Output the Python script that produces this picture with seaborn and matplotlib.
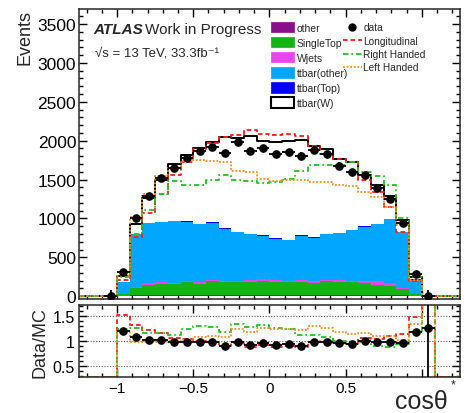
import numpy as np
import pandas as pd
import matplotlib
matplotlib.use('Agg')
import matplotlib.pyplot as plt
from matplotlib.patches import Patch
from matplotlib.lines import Line2D
from matplotlib.ticker import MultipleLocator, FixedLocator, FixedFormatter
import seaborn as sns

# 30 bins of cos(theta), width 1/12, from -1.25 to 1.25
bin_edges = list(np.linspace(-1.25, 1.25, 31))

# MC samples (events per bin)
other = [0, 0, 0, 3, 12, 15, 15, 15, 18, 16, 18, 18, 18, 18, 20, 18, 18, 18,
         16, 18, 18, 16, 16, 15, 14, 10, 3, 0, 0, 0]
single_top = [0, 0, 0, 27, 93, 134, 143, 139, 162, 144, 172, 164, 164, 170,
              181, 170, 162, 170, 155, 175, 166, 164, 155, 135, 123, 84, 27,
              0, 0, 0]
wjets = [0, 0, 0, 5, 18, 20, 20, 22, 22, 22, 22, 20, 20, 22, 22, 20, 20, 22,
         20, 20, 22, 20, 22, 40, 34, 15, 5, 0, 0, 0]
ttbar_other = [0, 0, 0, 145, 677, 773, 774, 786, 756, 745, 728, 668, 624,
               589, 556, 532, 522, 569, 561, 584, 608, 652, 702, 735, 823,
               712, 180, 1, 0, 0]
ttbar_top = [0, 0, 0, 2, 4, 4, 4, 4, 4, 4, 12, 10, 4, 4, 4, 4, 4, 4, 10, 4,
             4, 4, 4, 4, 4, 4, 2, 0, 0, 0]
ttbar_w = [0, 0, 0, 78, 131, 314, 544, 729, 850, 971, 1028, 1165, 1200, 1262,
           1212, 1244, 1266, 1221, 1166, 1087, 945, 876, 666, 506, 287, 161,
           28, 3, 0, 0]

# data
nan = np.nan
data = [nan, nan, 3, 310, 1002, 1285, 1520, 1645, 1778, 1864, 1915, 1842,
        1987, 1872, 1906, 1829, 1851, 1807, 1884, 1829, 1679, 1602, 1563,
        1392, 1251, 942, 287, 5, nan, nan]
data_err = [nan, nan, 75, 18, 32, 36, 39, 41, 42, 43, 44, 43, 45, 43, 44, 43,
            43, 43, 43, 43, 41, 40, 40, 37, 35, 31, 17, 75, nan, nan]

# helicity templates
longitudinal = [0, 0, 0, 205, 758, 1067, 1315, 1559, 1722, 1893, 1965, 2044,
                2073, 2141, 2090, 2070, 2086, 2060, 1928, 1830, 1765, 1722,
                1495, 1345, 1144, 831, 195, 1, 0, 0]
right_handed = [0, 0, 0, 251, 805, 1111, 1310, 1486, 1431, 1431, 1500, 1559,
                1500, 1480, 1452, 1465, 1508, 1615, 1692, 1692, 1692, 1722,
                1594, 1548, 1435, 1006, 246, 1, 0, 0]
left_handed = [0, 0, 0, 258, 1022, 1311, 1551, 1645, 1743, 1748, 1740, 1722,
               1615, 1598, 1510, 1480, 1500, 1495, 1465, 1465, 1431, 1422,
               1345, 1280, 1144, 920, 215, 1, 0, 0]

stack_order = ['ttbar(W)', 'ttbar(Top)', 'ttbar(other)', 'Wjets', 'SingleTop', 'other']
colors = {'other': '#8a0f8a', 'SingleTop': '#14b414', 'Wjets': '#ec44ec',
          'ttbar(other)': '#00a6ff', 'ttbar(Top)': '#0000ff', 'ttbar(W)': '#ffffff'}
legend_order = ['other', 'SingleTop', 'Wjets', 'ttbar(other)', 'ttbar(Top)', 'ttbar(W)']

y_ticks = [0, 500, 1000, 1500, 2000, 2500, 3000, 3500]
ratio_ticks = [0.5, 1, 1.5]
ratio_labels = ['0.5', '1', '1.5']
x_ticks = [-1, -0.5, 0, 0.5, 1]
x_labels = ['\u22121', '\u22120.5', '0', '0.5', '']


def main():
    df = build()
    plot(df)


def build():
    edges = np.array(bin_edges)
    centers = 0.5 * (edges[:-1] + edges[1:])
    series = {'other': other, 'SingleTop': single_top, 'Wjets': wjets,
              'ttbar(other)': ttbar_other, 'ttbar(Top)': ttbar_top,
              'ttbar(W)': ttbar_w}
    rows = []
    for name, vals in series.items():
        rows.append(pd.DataFrame({'x': centers, 'w': vals, 'sample': name}))
    return pd.concat(rows, ignore_index=True)


def style_axis(a):
    a.tick_params(which='both', direction='in', top=True, right=True,
                  width=1, colors='black')
    a.tick_params(which='major', length=6)
    a.tick_params(which='minor', length=3)
    for s in a.spines.values():
        s.set_linewidth(1.1)


def plot(df):
    sns.set_style('ticks')
    plt.rcParams['font.family'] = ['Liberation Sans', 'DejaVu Sans']

    fig = plt.figure(figsize=(4.67, 4.14), dpi=100)
    ax = fig.add_axes([0.169, 0.2754, 0.816, 0.7005])
    rax = fig.add_axes([0.169, 0.0862, 0.816, 0.1754])

    edges = np.array(bin_edges)
    centers = 0.5 * (edges[:-1] + edges[1:])
    half = 0.5 * np.diff(edges)
    total = df.groupby('x', sort=True)['w'].sum().values
    d = np.array(data, dtype=float)
    derr = np.array(data_err, dtype=float)

    # stacked MC
    sns.histplot(data=df, x='x', weights='w', hue='sample', hue_order=stack_order,
                 palette=colors, multiple='stack', bins=bin_edges, element='step',
                 linewidth=0, alpha=1, legend=False, ax=ax)
    sns.histplot(x=centers, weights=total, bins=bin_edges, element='step',
                 fill=False, color='black', linewidth=1.4, ax=ax)

    templates = [(longitudinal, '#ff1a1a', (0, (2.6, 1.6))),
                 (right_handed, '#1fc41f', (0, (3, 1.6, 1, 1.6))),
                 (left_handed, '#ff8c1a', (0, (1, 1)))]
    for vals, col, ls in templates:
        sns.histplot(x=centers, weights=vals, bins=bin_edges, element='step',
                     fill=False, color=col, linestyle=ls, linewidth=1.3, ax=ax)

    ax.errorbar(centers, d, yerr=derr, xerr=half, fmt='o', color='black',
                ms=5.2, elinewidth=1.3, capsize=0, zorder=5)

    ax.set_xlim(-1.25, 1.25)
    ax.set_ylim(-35, 3693)
    ax.yaxis.set_major_locator(FixedLocator(y_ticks))
    ax.yaxis.set_minor_locator(MultipleLocator(100))
    ax.xaxis.set_major_locator(FixedLocator(x_ticks))
    ax.xaxis.set_minor_locator(MultipleLocator(0.1))
    ax.set_xticklabels([])
    ax.tick_params(axis='y', labelsize=12.5, pad=2)
    style_axis(ax)
    ax.set_xlabel('')
    ax.set_ylabel('Events', loc='top', fontsize=13)
    ax.yaxis.set_label_coords(-0.118, 1.0)

    # ratio panel
    d0 = np.nan_to_num(d)
    rlo, rhi = 0.268, 1.72
    for vals, col, ls in templates:
        t = np.array(vals, dtype=float)
        r = np.divide(d0, t, out=np.zeros_like(t), where=t > 0)
        r = np.clip(r, rlo + 0.01, rhi + 0.5)
        sns.histplot(x=centers, weights=r, bins=bin_edges, element='step',
                     fill=False, color=col, linestyle=ls, linewidth=1.3, ax=rax)
    with np.errstate(divide='ignore', invalid='ignore'):
        rd = np.where(total > 0, d / total, np.nan)
        rerr = np.where(total > 0, derr / total, np.nan)
    rax.errorbar(centers, rd, yerr=rerr, xerr=half, fmt='o', color='black',
                 ms=5.2, elinewidth=1.3, capsize=0, zorder=5)
    for yv in ratio_ticks:
        rax.axhline(yv, color='0.35', linestyle=(0, (1, 1.5)), linewidth=0.8, zorder=0)

    rax.set_xlim(-1.25, 1.25)
    rax.set_ylim(rlo, rhi)
    rax.yaxis.set_major_locator(FixedLocator(ratio_ticks))
    rax.yaxis.set_major_formatter(FixedFormatter(ratio_labels))
    rax.yaxis.set_minor_locator(MultipleLocator(0.1))
    rax.xaxis.set_major_locator(FixedLocator(x_ticks))
    rax.xaxis.set_major_formatter(FixedFormatter(x_labels))
    rax.xaxis.set_minor_locator(MultipleLocator(0.1))
    rax.tick_params(axis='y', labelsize=11.5, pad=3)
    rax.tick_params(axis='x', labelsize=11, pad=3)
    style_axis(rax)
    rax.set_xlabel('')
    rax.set_ylabel('Data/MC', fontsize=13)
    rax.yaxis.set_label_coords(-0.080, 0.49)

    # legends
    handles1 = [Patch(facecolor=colors[n], edgecolor='black' if n == 'ttbar(W)' else colors[n],
                      linewidth=1.5 if n == 'ttbar(W)' else 0.5) for n in legend_order]
    leg1 = ax.legend(handles1, legend_order, loc='upper left',
                     bbox_to_anchor=(270.7 / 467, 1 - 23 / 414),
                     bbox_transform=fig.transFigure, frameon=False, fontsize=7.5,
                     borderpad=0, borderaxespad=0, handlelength=2.2,
                     handleheight=1.15, handletextpad=0.33, labelspacing=0.42)
    ax.add_artist(leg1)
    handles2 = [Line2D([], [], color='black', marker='o', ms=5, linestyle='none'),
                Line2D([], [], color='#ff1a1a', linestyle=(0, (2.6, 1.6)), lw=1.3),
                Line2D([], [], color='#1fc41f', linestyle=(0, (3, 1.6, 1, 1.6)), lw=1.3),
                Line2D([], [], color='#ff8c1a', linestyle=(0, (1, 1)), lw=1.3)]
    ax.legend(handles2, ['data', 'Longitudinal', 'Right Handed', 'Left Handed'],
              loc='upper left', bbox_to_anchor=(343 / 467, 1 - 23.4 / 414),
              bbox_transform=fig.transFigure, frameon=False, fontsize=7.3,
              borderpad=0, borderaxespad=0, handlelength=1.85,
              handletextpad=0.15, labelspacing=0.33)

    # labels
    fig.text(93 / 467, 1 - 30 / 414, 'ATLAS', fontsize=11, fontweight='bold',
             fontstyle='italic', va='center')
    fig.text(145 / 467, 1 - 30 / 414, 'Work in Progress', fontsize=11, va='center')
    fig.text(95 / 467, 1 - 53 / 414, '\u221as = 13 TeV, 33.3fb\u207b\u00b9',
             fontsize=9.5, va='center')
    fig.text(448 / 467, 1 - 409 / 414, 'cos\u03b8', fontsize=18, ha='right',
             va='baseline')
    fig.text(453 / 467, 1 - 385 / 414, '*', fontsize=9, ha='center', va='center')

    fig.savefig('out.png', dpi=100)


if __name__ == '__main__':
    main()
